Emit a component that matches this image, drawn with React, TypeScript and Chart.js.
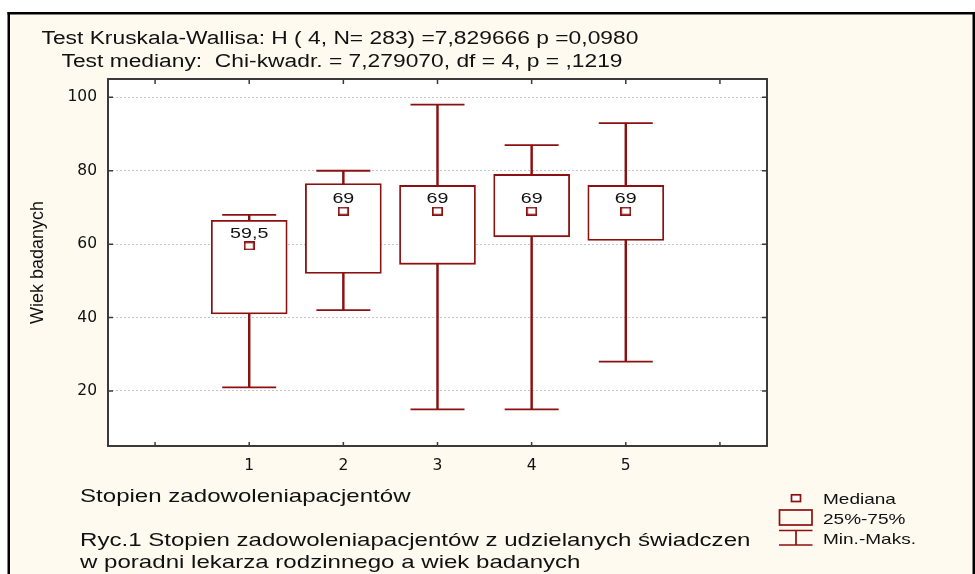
import React, { useEffect, useRef } from 'react';
import { Chart, registerables } from 'chart.js';

Chart.register(...registerables);

// ---- data ----
const categories = ['', '1', '2', '3', '4', '5', ''];
const groups = ['1', '2', '3', '4', '5'];
const minValues = [21, 42, 15, 15, 28];
const q1Values = [41, 52, 54.5, 62, 61];
const medianValues = [59.5, 69, 69, 69, 69];
const q3Values = [66.5, 76.5, 76, 79, 76];
const maxValues = [68, 80, 98, 87, 93];
const yTicks = [20, 40, 60, 80, 100];
const yMin = 5;
const yMax = 105;

const titleLines = [
  'Test Kruskala-Wallisa: H ( 4, N= 283) =7,829666 p =0,0980',
  'Test mediany:  Chi-kwadr. = 7,279070, df = 4, p = ,1219',
];
const xTitle = 'Stopien zadowoleniapacjentów';
const yTitle = 'Wiek badanych';
const captionLines = [
  'Ryc.1 Stopien zadowoleniapacjentów z udzielanych świadczen',
  'w poradni lekarza rodzinnego a wiek badanych',
];
const legendLabels = ['Mediana', '25%-75%', 'Min.-Maks.'];

// ---- style ----
const RED = '#8b1010';
const SX = 1.267;
const FONT = '"Liberation Sans", Arial, sans-serif';
const TICK_FONT = { family: '"DejaVu Sans", sans-serif', size: 15.5 };

function sText(
  ctx: CanvasRenderingContext2D,
  text: string,
  x: number,
  y: number,
  size: number,
  align: CanvasTextAlign = 'left',
) {
  ctx.save();
  ctx.font = `${size}px ${FONT}`;
  ctx.fillStyle = '#111';
  ctx.textAlign = align;
  ctx.textBaseline = 'alphabetic';
  ctx.translate(x, y);
  ctx.scale(SX, 1);
  ctx.fillText(text, 0, 0);
  ctx.restore();
}

function makeMedianMarker() {
  const c = document.createElement('canvas');
  c.width = 11;
  c.height = 9;
  const g = c.getContext('2d')!;
  g.fillStyle = '#fff';
  g.fillRect(0, 0, 11, 9);
  g.strokeStyle = RED;
  g.lineWidth = 1.7;
  g.strokeRect(0.85, 0.85, 9.3, 7.3);
  return c;
}

const decorPlugin = {
  id: 'decor',
  beforeDraw(chart: any) {
    const { ctx, chartArea: a, width, height } = chart;
    ctx.save();
    ctx.fillStyle = '#ffffff';
    ctx.fillRect(0, 0, width, height);
    ctx.fillStyle = '#fffaf0';
    ctx.fillRect(9, 13, 964, height - 13);
    ctx.fillStyle = '#000';
    ctx.fillRect(7.5, 12, 2.5, height - 12);
    ctx.fillRect(7.5, 12, 967.5, 2.5);
    ctx.fillRect(972.5, 12, 2.5, height - 12);
    ctx.fillStyle = '#ffffff';
    ctx.fillRect(a.left, a.top, a.right - a.left, a.bottom - a.top);
    ctx.restore();
  },
  afterDatasetsDraw(chart: any) {
    const { ctx } = chart;
    const meta = chart.getDatasetMeta(0);
    meta.data.forEach((pt: any, i: number) => {
      const label = String(medianValues[i]).replace('.', ',');
      sText(ctx, label, pt.x, pt.y - 7.7, 15.5, 'center');
    });
  },
  afterDraw(chart: any) {
    const { ctx, chartArea: a, scales } = chart;
    ctx.save();
    // plot frame
    ctx.strokeStyle = '#3a3a3a';
    ctx.lineWidth = 2;
    ctx.strokeRect(a.left, a.top, a.right - a.left, a.bottom - a.top);
    // inward ticks
    ctx.lineWidth = 1.5;
    ctx.beginPath();
    for (let i = 0; i < categories.length; i++) {
      const x = scales.x.getPixelForTick(i);
      ctx.moveTo(x, a.bottom);
      ctx.lineTo(x, a.bottom - 4);
      ctx.moveTo(x, a.top);
      ctx.lineTo(x, a.top + 5);
    }
    yTicks.forEach((v) => {
      const y = scales.y.getPixelForValue(v);
      ctx.moveTo(a.left, y);
      ctx.lineTo(a.left + 5, y);
      ctx.moveTo(a.right, y);
      ctx.lineTo(a.right - 5, y);
    });
    ctx.stroke();
    ctx.restore();

    // titles
    sText(ctx, titleLines[0], 41.5, 44, 18);
    sText(ctx, titleLines[1], 61.5, 66.5, 18);
    sText(ctx, xTitle, 80, 501.5, 19);
    sText(ctx, captionLines[0], 80, 546, 19);
    sText(ctx, captionLines[1], 80, 568, 19);

    // y title (rotated)
    ctx.save();
    ctx.font = `18px ${FONT}`;
    ctx.fillStyle = '#111';
    ctx.textAlign = 'center';
    ctx.textBaseline = 'alphabetic';
    ctx.translate(42.5, 262.5);
    ctx.rotate(-Math.PI / 2);
    ctx.fillText(yTitle, 0, 0);
    ctx.restore();

    // legend
    ctx.save();
    ctx.strokeStyle = RED;
    ctx.lineWidth = 1.7;
    ctx.fillStyle = '#fff';
    ctx.fillRect(790.7, 494, 10.6, 8.3);
    ctx.strokeRect(791.5, 494.8, 9, 6.7);
    ctx.strokeRect(779.5, 510, 32.5, 15);
    ctx.beginPath();
    ctx.moveTo(779, 530.5);
    ctx.lineTo(812.5, 530.5);
    ctx.moveTo(796, 530.5);
    ctx.lineTo(796, 545);
    ctx.moveTo(779, 545);
    ctx.lineTo(812.5, 545);
    ctx.stroke();
    ctx.restore();
    sText(ctx, legendLabels[0], 823, 504.3, 15);
    sText(ctx, legendLabels[1], 823, 524.3, 15);
    sText(ctx, legendLabels[2], 823, 544.3, 15);
  },
};

export default function App() {
  const ref = useRef<HTMLCanvasElement>(null);

  useEffect(() => {
    const medianMarker = makeMedianMarker();
    const capData = (vals: number[]) => groups.map((g, i) => ({ x: g, y: vals[i] }));
    const chart = new Chart(ref.current as HTMLCanvasElement, {
      type: 'bar',
      data: {
        labels: categories,
        datasets: [
          {
            type: 'line',
            label: 'Mediana',
            data: capData(medianValues),
            showLine: false,
            pointStyle: medianMarker as any,
            pointRadius: 5,
            order: 0,
          } as any,
          {
            type: 'bar',
            label: '25%-75%',
            data: groups.map((g, i) => ({ x: g, y: [q1Values[i], q3Values[i]] })),
            backgroundColor: '#ffffff',
            borderColor: RED,
            borderWidth: 1.8,
            borderSkipped: false,
            barThickness: 76,
            grouped: false,
            order: 1,
          } as any,
          {
            type: 'line',
            label: 'Maks.',
            data: capData(maxValues),
            showLine: false,
            pointStyle: 'line',
            pointRadius: 27,
            pointBorderColor: RED,
            pointBorderWidth: 1.8,
            borderColor: RED,
            order: 2,
          } as any,
          {
            type: 'line',
            label: 'Min.',
            data: capData(minValues),
            showLine: false,
            pointStyle: 'line',
            pointRadius: 27,
            pointBorderColor: RED,
            pointBorderWidth: 1.8,
            borderColor: RED,
            order: 2,
          } as any,
          {
            type: 'bar',
            label: 'Min.-Maks.',
            data: groups.map((g, i) => ({ x: g, y: [minValues[i], maxValues[i]] })),
            backgroundColor: RED,
            borderWidth: 0,
            barThickness: 1.8,
            grouped: false,
            order: 3,
          } as any,
        ],
      },
      options: {
        responsive: false,
        animation: false,
        events: [],
        devicePixelRatio: 1,
        layout: { padding: { left: 0, top: 79, right: 208, bottom: 0 } },
        plugins: { legend: { display: false }, tooltip: { enabled: false } },
        scales: {
          x: {
            type: 'category',
            offset: true,
            grid: { display: false, drawTicks: false },
            border: { display: false },
            ticks: { font: TICK_FONT, color: '#111', padding: 11, autoSkip: false, maxRotation: 0 },
            afterFit: (s: any) => {
              s.height = 128;
            },
          },
          y: {
            type: 'linear',
            min: yMin,
            max: yMax,
            afterBuildTicks: (s: any) => {
              s.ticks = yTicks.map((v) => ({ value: v }));
            },
            grid: { color: '#c4c4c4', lineWidth: 1, drawTicks: false },
            border: { display: false, dash: [2, 2] },
            ticks: { font: TICK_FONT, color: '#111', padding: 11 },
            afterFit: (s: any) => {
              s.width = 108;
            },
          },
        },
      } as any,
      plugins: [decorPlugin],
    });
    return () => chart.destroy();
  }, []);

  return (
    <div style={{ position: 'fixed', left: 0, top: 0, width: 975, height: 574, background: '#fff' }}>
      <canvas ref={ref} width={975} height={574} style={{ display: 'block', width: 975, height: 574 }} />
    </div>
  );
}
